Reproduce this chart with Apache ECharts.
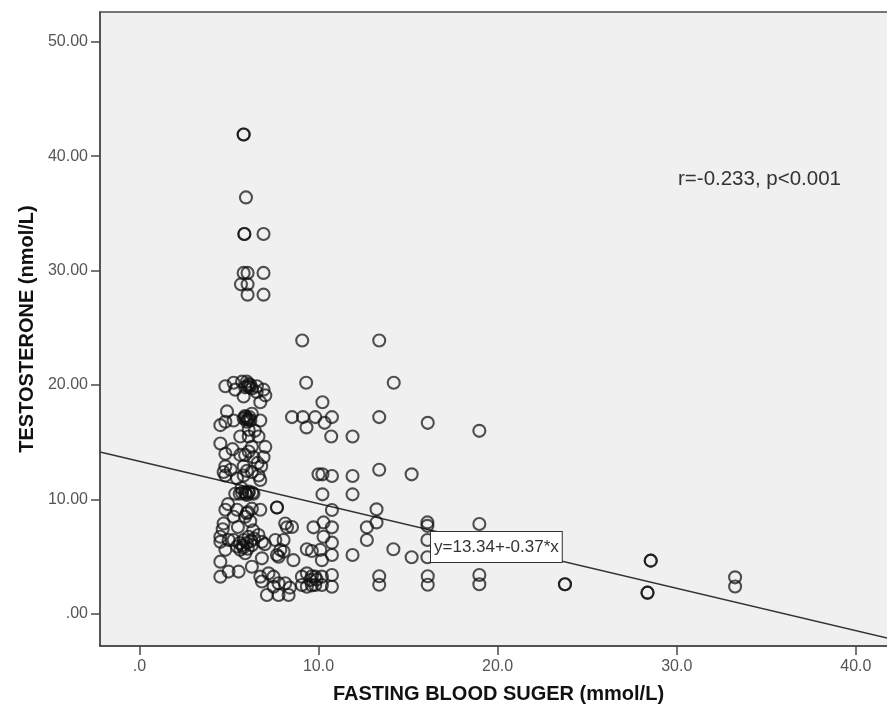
<!DOCTYPE html>
<html>
<head>
<meta charset="utf-8">
<script src="https://cdn.jsdelivr.net/npm/echarts@6/dist/echarts.min.js"></script>
<style>html,body{margin:0;padding:0;background:#fff}#c{width:887px;height:712px}</style>
</head>
<body>
<div id="c"></div>
<script>
// Fasting blood sugar (mmol/L) per subject
var fbs = [
 5.82,5.82,5.95,5.86,5.86,6.93,5.82,6.04,6.93,5.67,6.04,6.04,6.93,
 9.09,13.39,9.31,14.2,10.22,8.52,9.13,9.82,10.75,13.39,9.33,10.34,16.1,10.71,11.9,18.98,
 10.0,10.22,10.75,11.9,13.39,15.2,10.22,11.9,10.75,13.24,
 16.08,16.08,18.98,13.24,12.7,10.28,9.72,10.75,8.24,8.52,
 12.7,10.28,10.75,16.08,9.35,9.63,10.1,10.75,11.9,14.18,15.2,16.08,8.6,10.19,
 13.39,13.39,16.1,16.1,18.98,18.98,23.76,23.76,28.55,28.55,28.37,28.37,33.26,33.26,
 4.8,5.26,5.73,6.1,6.0,6.28,6.2,6.56,6.93,7.03,5.35,5.82,6.75,6.05,6.15,
 4.89,4.52,4.8,5.26,5.82,5.9,6.1,6.0,6.28,6.75,6.1,5.95,6.2,
 4.52,5.63,6.1,6.65,4.8,5.63,6.28,7.03,6.37,6.93,6.1,5.9,
 4.8,4.8,5.82,5.82,6.28,6.65,6.75,5.45,6.0,
 5.35,5.73,5.9,6.1,6.37,5.6,6.0,
 4.8,5.45,6.28,6.75,5.91,5.26,4.7,6.19,7.68,7.68,6.0,
 4.52,4.52,4.8,5.26,5.63,5.82,6.1,6.28,6.65,6.84,5.91,4.98,5.45,5.8,6.0,5.6,6.4,
 4.52,4.52,4.98,5.54,6.28,6.84,6.75,
 6.84,7.21,7.49,7.77,7.12,7.77,8.33,8.14,7.49,
 8.14,7.59,8.05,7.87,7.77,8.05,7.68,
 9.07,9.07,9.35,9.54,9.82,9.82,10.19,10.19,10.75,10.75,9.35,9.63,9.63,
 5.9,6.0,6.15,5.95,6.1,6.3,5.75,6.05,6.25,4.65,4.7,5.1,5.5,6.45,6.6,6.8,5.7,6.05,6.35,4.95,5.2,6.55,7.0,8.4,9.9
];
// Testosterone (nmol/L) per subject
var testosterone = [
 41.9,41.9,36.4,33.2,33.2,33.2,29.8,29.8,29.8,28.8,28.8,27.9,27.9,
 23.9,23.9,20.2,20.2,18.5,17.2,17.2,17.2,17.2,17.2,16.3,16.7,16.7,15.5,15.5,16.0,
 12.2,12.2,12.05,12.05,12.6,12.2,10.45,10.45,9.08,9.14,
 8.0,7.7,7.86,8.0,7.57,8.0,7.57,7.57,7.57,7.6,
 6.46,6.75,6.23,6.46,5.65,5.5,5.6,5.15,5.15,5.65,4.95,4.95,4.7,4.7,
 3.3,2.55,3.3,2.55,3.4,2.6,2.6,2.6,4.66,4.66,1.86,1.86,3.2,2.4,
 19.9,20.2,20.3,20.1,20.3,19.7,20.0,19.9,19.6,19.1,19.6,19.0,18.5,19.9,19.8,
 17.7,16.5,16.8,16.9,17.1,17.3,17.0,16.8,17.5,16.9,16.1,17.2,16.9,
 14.9,15.5,15.5,15.5,14.0,13.9,14.6,14.6,13.7,13.7,14.2,13.9,
 12.9,12.1,12.9,12.1,12.4,12.1,11.7,11.85,12.5,
 10.5,10.6,10.6,10.6,10.5,10.5,10.4,
 9.1,9.1,9.2,9.1,8.5,8.5,7.9,8.1,9.3,9.3,8.8,
 6.75,6.3,5.6,6.46,5.6,6.46,6.75,6.0,6.9,6.3,5.3,6.46,5.9,5.8,6.2,6.2,6.6,
 4.57,3.26,3.7,3.7,4.13,4.86,3.26,
 2.83,3.55,3.26,2.68,1.66,1.66,1.66,2.68,2.38,
 7.9,6.46,6.46,5.6,5.0,5.45,5.15,
 3.26,2.53,3.55,2.97,3.26,2.53,3.26,2.53,3.4,2.38,2.38,3.3,2.5,
 19.8,17.0,17.2,10.5,10.7,10.6,6.0,5.7,6.4,7.4,12.4,12.6,7.6,16.0,13.2,12.9,11.0,8.9,7.3,9.6,14.4,19.4,6.1,2.3,3.0
];
var xTicks = [0, 10, 20, 30, 40];
var yTicks = [0, 10, 20, 30, 40, 50];
var fitIntercept = 13.34, fitSlope = -0.37;
var xRange = [-2.2, 42.3], yRange = [-2.8, 52.6];

var pts = fbs.map(function (v, i) { return [v, testosterone[i]]; });
var fitLine = xRange.map(function (x) { return [x, fitIntercept + fitSlope * x]; });

var chart = echarts.init(document.getElementById('c'), null, {renderer: 'canvas'});
var font = '"Liberation Sans", Arial, sans-serif';
chart.setOption({
  animation: false,
  backgroundColor: '#ffffff',
  grid: {left: 100, right: -10, top: 12, bottom: 66, show: true, containLabel: false,
         outerBoundsMode: 'none',
         backgroundColor: '#f0f0f0', borderColor: '#4a4a4a', borderWidth: 1.5},
  xAxis: {
    type: 'value', min: xRange[0], max: xRange[1],
    name: 'FASTING BLOOD SUGER (mmol/L)', nameLocation: 'middle', nameGap: 38,
    nameTextStyle: {fontFamily: font, fontWeight: 'bold', fontSize: 20, color: '#111'},
    axisLine: {show: true, onZero: false, lineStyle: {color: '#4a4a4a', width: 1.5}},
    axisTick: {show: true, length: 9, customValues: xTicks, lineStyle: {color: '#4a4a4a', width: 1.5}},
    axisLabel: {customValues: xTicks, margin: 13, fontFamily: font, fontSize: 16, color: '#555',
      formatter: function (v) { return v === 0 ? '.0' : v.toFixed(1); }},
    splitLine: {show: false}
  },
  yAxis: {
    type: 'value', min: yRange[0], max: yRange[1],
    name: 'TESTOSTERONE (nmol/L)', nameLocation: 'middle', nameGap: 63, nameRotate: 90,
    nameTextStyle: {fontFamily: font, fontWeight: 'bold', fontSize: 20, color: '#111'},
    axisLine: {show: true, onZero: false, lineStyle: {color: '#4a4a4a', width: 1.5}},
    axisTick: {show: true, length: 9, customValues: yTicks, lineStyle: {color: '#4a4a4a', width: 1.5}},
    axisLabel: {customValues: yTicks, margin: 12, fontFamily: font, fontSize: 16, color: '#555',
      formatter: function (v) { return v === 0 ? '.00' : v.toFixed(2); }},
    splitLine: {show: false}
  },
  series: [
    {type: 'line', data: fitLine, symbol: 'none', silent: true,
     lineStyle: {color: '#333', width: 1.4}, z: 1},
    {type: 'scatter', data: pts, symbol: 'circle', symbolSize: 12,
     itemStyle: {color: 'rgba(0,0,0,0)', borderColor: 'rgba(15,15,15,0.9)', borderWidth: 2.1}, z: 2}
  ],
  graphic: [
    {type: 'text', left: 678, top: 169,
     style: {text: 'r=-0.233, p<0.001', font: '20.5px ' + font, fill: '#333'}},
    {type: 'text', left: 430, top: 531, z: 10,
     style: {text: 'y=13.34+-0.37*x', font: '17px ' + font, fill: '#333',
             backgroundColor: '#ffffff', borderColor: '#333', borderWidth: 1,
             padding: [7, 3, 6, 3]}}
  ]
});
</script>
</body>
</html>
